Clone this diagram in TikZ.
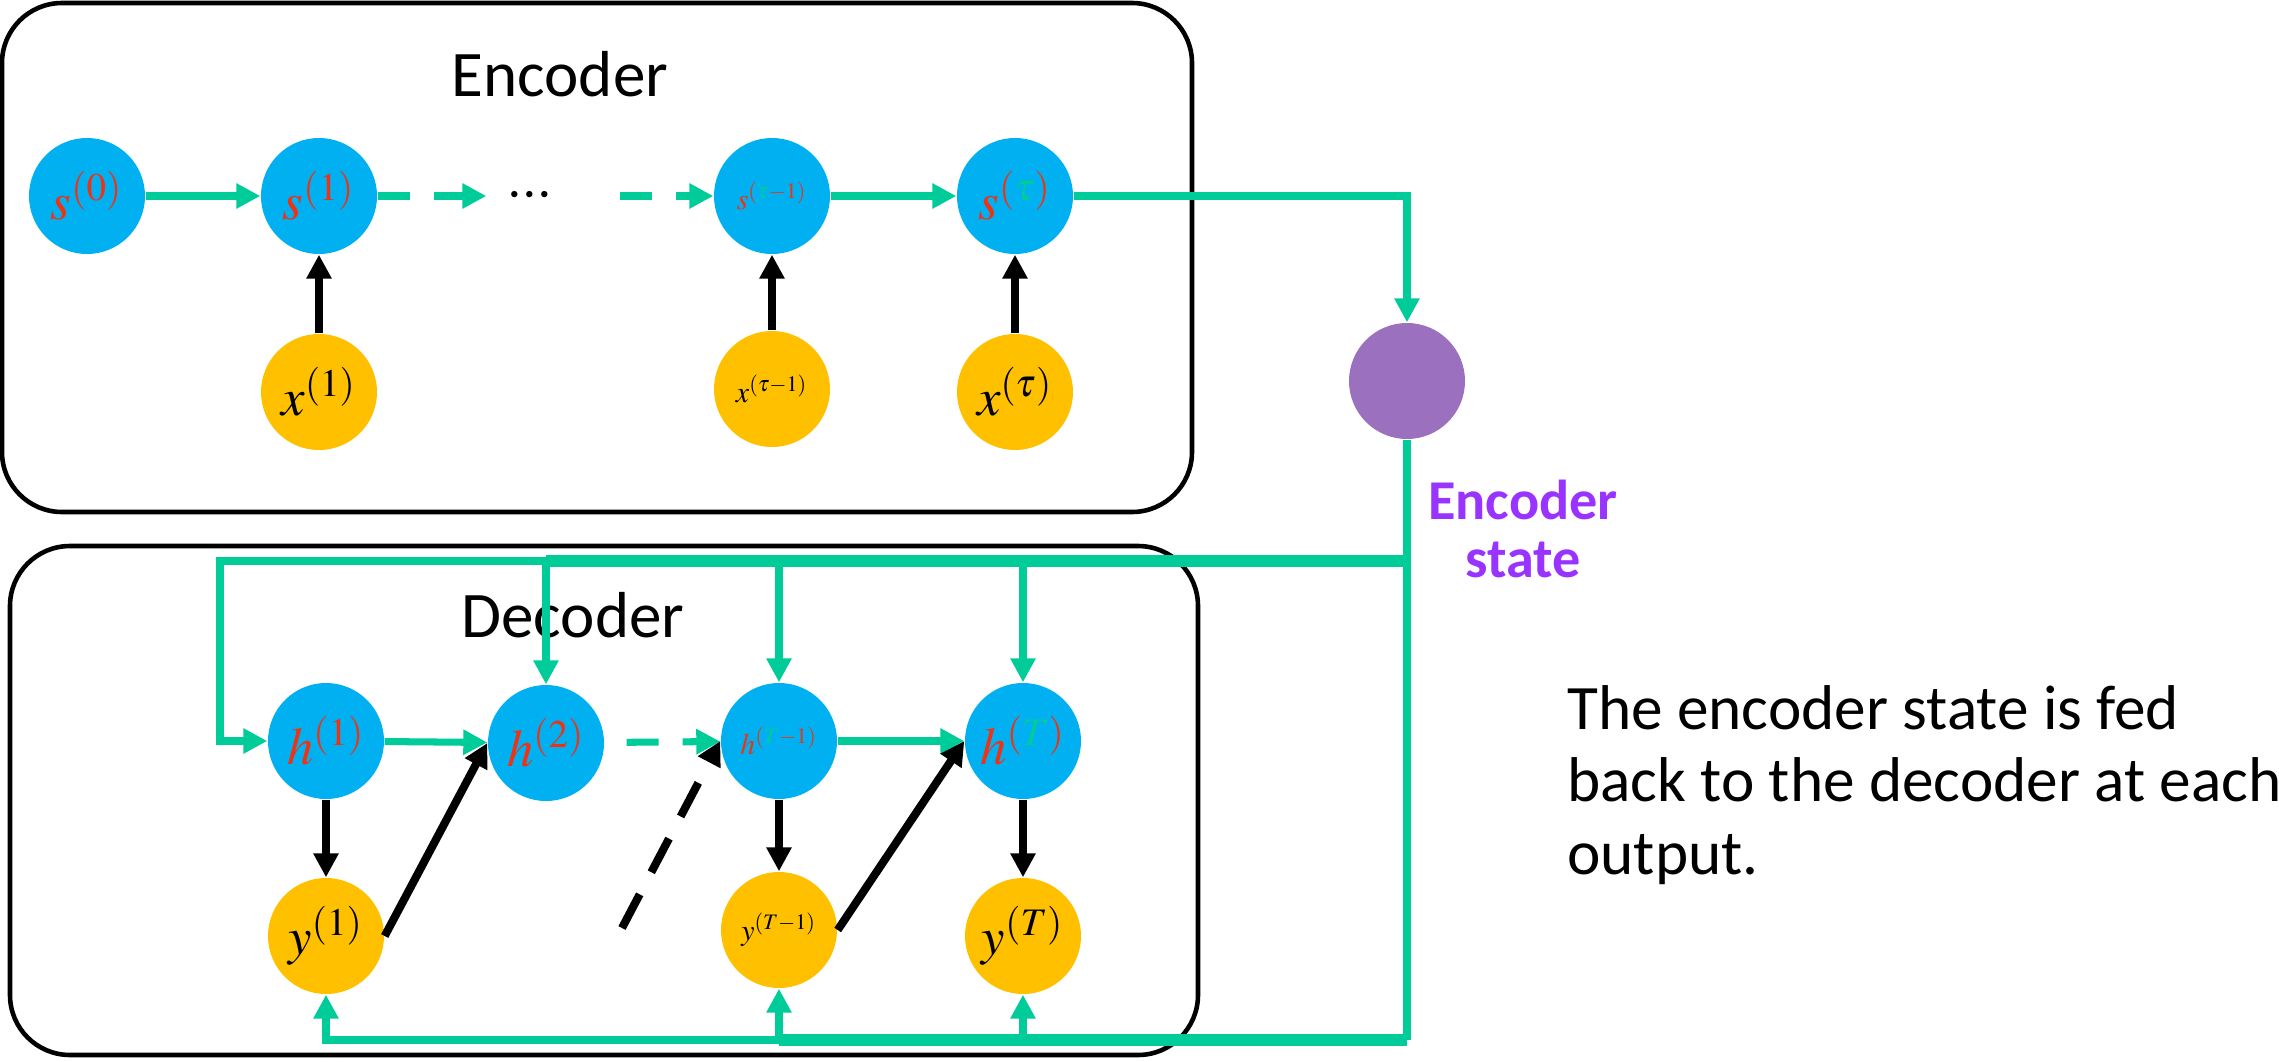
\documentclass[tikz,border=0pt]{standalone}
\usepackage{mathptmx}
\usepackage[no-math]{fontspec}
\setmainfont{Carlito}
\usetikzlibrary{arrows.meta}

\definecolor{cellblue}{RGB}{0,176,240}
\definecolor{cellgold}{RGB}{255,192,0}
\definecolor{statepurple}{RGB}{155,112,190}
\definecolor{labelpurple}{RGB}{153,51,255}
\definecolor{flowgreen}{RGB}{0,204,153}
\definecolor{tred}{RGB}{240,50,20}

\begin{document}
\begin{tikzpicture}[
  hidden/.style={circle, fill=cellblue, minimum size=1.16cm, inner sep=0pt},
  visible/.style={circle, fill=cellgold, minimum size=1.16cm, inner sep=0pt},
  flow/.style={flowgreen, line width=2pt, -{Triangle[length=2.4mm,width=2.4mm]}},
  trunk/.style={flowgreen, line width=3.4pt},
  feed/.style={black, line width=2.3pt, -{Triangle[length=2.4mm,width=2.4mm]}},
  bigmath/.style={font=\fontsize{15}{18}\selectfont},
  smallmath/.style={font=\fontsize{8.5}{10}\selectfont},
  title/.style={font=\fontsize{18.5}{22}\selectfont},
]

  % Fix the page to the size of the reference
  \useasboundingbox (0,0) rectangle (22.79,10.61);

  % Draw the encoder and decoder frames
  \draw[line width=1.3pt, rounded corners=0.6cm] (0.02,5.49) rectangle (11.92,10.58);
  \draw[line width=1.3pt, rounded corners=0.6cm] (0.10,0.06) rectangle (11.98,5.15);
  \node[title] (enctitle) at (5.60,9.87) {Encoder};
  \node[title] (dectitle) at (5.73,4.46) {Decoder};

  % Encoder states and inputs
  \node[hidden, bigmath] (s0) at (0.87,8.65) {$\color{tred}s^{(0)}$};
  \node[hidden, bigmath] (s1) at (3.19,8.65) {$\color{tred}s^{(1)}$};
  \node[minimum width=0.86cm, font=\fontsize{17}{18}\selectfont] (dots) at (5.30,8.65) {$\cdot\mkern-3mu\cdot\mkern-3mu\cdot$};
  \node[hidden, smallmath] (stm1) at (7.72,8.65) {$\color{tred}s^{(\textcolor{flowgreen}{\tau}-1)}$};
  \node[hidden, bigmath] (st) at (10.15,8.65) {$\color{tred}s^{(\textcolor{flowgreen}{\tau})}$};
  \node[visible, bigmath] (x1) at (3.19,6.69) {$x^{(1)}$};
  \node[visible, smallmath] (xtm1) at (7.72,6.72) {$x^{(\tau-1)}$};
  \node[visible, bigmath] (xt) at (10.15,6.69) {$x^{(\tau)}$};

  % Encoder state
  \node[circle, fill=statepurple, minimum size=1.16cm] (enc) at (14.07,6.80) {};
  \node[align=center, text=labelpurple, font=\fontsize{16}{16.5}\selectfont\bfseries] (enclabel) at (15.23,5.32) {Encoder\\state};

  % Decoder states and outputs
  \node[hidden, bigmath] (h1) at (3.26,3.20) {$\color{tred}h^{(1)}$};
  \node[hidden, bigmath] (h2) at (5.46,3.18) {$\color{tred}h^{(2)}$};
  \node[hidden, smallmath] (hTm1) at (7.79,3.20) {$\color{tred}h^{(\textcolor{flowgreen}{T}-1)}$};
  \node[hidden, bigmath] (hT) at (10.23,3.20) {$\color{tred}h^{(\textcolor{flowgreen}{T})}$};
  \node[visible, bigmath] (y1) at (3.26,1.25) {$y^{(1)}$};
  \node[visible, smallmath] (yTm1) at (7.79,1.31) {$y^{(T-1)}$};
  \node[visible, bigmath] (yT) at (10.23,1.25) {$y^{(T)}$};

  % Side note
  \node[anchor=west, align=left, font=\fontsize{18}{20.6}\selectfont] (note) at (15.55,2.76)
    {The encoder state is fed\\back to the decoder at each\\output.};

  % Recurrence in the encoder
  \draw[flow] (s0) -- (s1);
  \draw[flow, dash pattern=on 0.32cm off 0.24cm] (s1) -- (dots);
  \draw[flow, dash pattern=on 0.32cm off 0.24cm, shorten <=0.46cm] (dots) -- (stm1);
  \draw[flow] (stm1) -- (st);
  \draw[flow] (st) -| (enc);
  \draw[feed] (x1) -- (s1);
  \draw[feed] (xtm1) -- (stm1);
  \draw[feed] (xt) -- (st);

  % Encoder state fed to every decoder step
  \coordinate (top) at (14.07,5.00);
  \coordinate (corner) at (2.20,5.00);
  \coordinate (bot) at (14.07,0.21);
  \draw[flowgreen, line width=2pt] (enc) -- (bot);
  \draw[trunk] (top) -- (top -| h2);
  \draw[trunk] (bot) -- (bot -| yTm1);
  \draw[flow] (top) -- (corner) |- (h1);
  \draw[flow] (top) -| (h2);
  \draw[flow] (top) -| (hTm1);
  \draw[flow] (top) -| (hT);
  \draw[flow] (bot) -| (y1);
  \draw[flow] (bot) -| (yTm1);
  \draw[flow] (bot) -| (yT);

  % Recurrence in the decoder
  \draw[flow] (h1) -- (h2);
  \draw[flow, dash pattern=on 0.32cm off 0.24cm, shorten <=0.22cm] (h2) -- (hTm1);
  \draw[flow] (hTm1) -- (hT);
  \draw[feed] (h1) -- (y1);
  \draw[feed] (hTm1) -- (yTm1);
  \draw[feed] (hT) -- (yT);
  \draw[feed] (y1.east) -- (h2.west);
  \draw[feed] (yTm1.east) -- (hT.west);
  \coordinate (dashstart) at (6.22,1.33);
  \draw[feed, dash pattern=on 0.38cm off 0.25cm] (dashstart) -- (hTm1.west);

\end{tikzpicture}
\end{document}
